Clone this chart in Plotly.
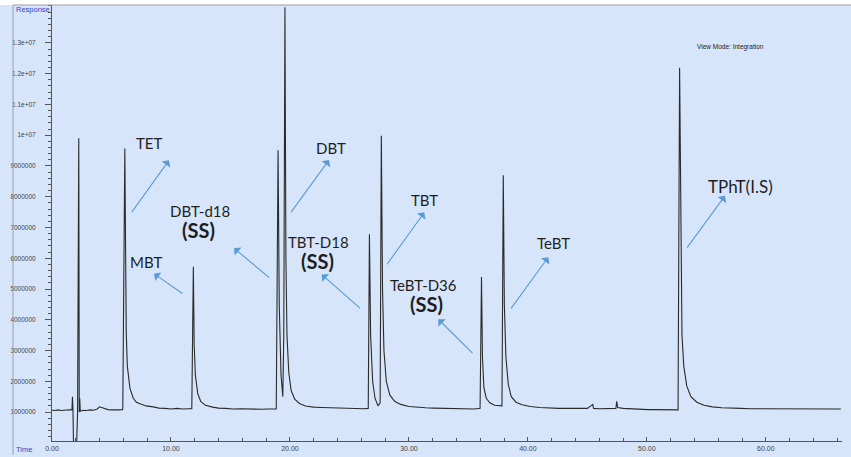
import plotly.graph_objects as go

# ---------------- data ----------------
time_min = [
    0.00, 0.25, 0.50, 0.75, 1.00, 1.25, 1.50, 1.68, 1.72, 1.76, 1.82, 2.05, 2.15, 2.25, 2.29, 2.33, 2.38,
    2.60, 2.90, 3.20, 3.50, 3.80, 4.00, 4.15, 4.40, 4.70, 5.00, 5.30, 5.60, 5.92,
    5.95, 6.12, 6.18, 6.24, 6.33, 6.55, 6.83, 7.10, 7.40, 7.90, 8.50, 9.00, 9.50, 10.00, 10.50, 11.00, 11.50, 11.75,
    11.88, 11.95, 12.05, 12.25, 12.50, 12.90, 13.50, 14.00, 14.60, 15.20, 15.80, 16.40, 17.00, 17.60, 18.20, 18.85,
    19.00, 19.10, 19.25, 19.40, 19.48, 19.58, 19.66, 19.75, 19.90, 20.10, 20.40, 20.80, 21.30, 22.00, 22.70, 23.40,
    24.10, 24.80, 25.50, 26.20, 26.58,
    26.68, 26.78, 26.95, 27.15, 27.40, 27.58, 27.68, 27.78, 27.90, 28.10, 28.40, 28.80, 29.30, 30.00, 30.70, 31.40,
    32.10, 32.80, 33.50, 34.20, 34.90, 35.50, 35.98,
    36.10, 36.18, 36.30, 36.50, 36.80, 37.20, 37.60, 37.82,
    37.93, 38.02, 38.15, 38.35, 38.60, 39.00, 39.50, 40.20, 41.00, 41.80, 42.60, 43.40, 44.20, 45.00, 45.45, 45.52,
    46.00, 46.70, 47.40, 47.46, 47.55, 48.00, 48.70, 49.40, 50.10, 50.80, 51.50, 52.20, 52.62,
    52.75, 52.85, 52.95, 53.10, 53.35, 53.70, 54.20, 54.80, 55.50, 56.30, 57.10, 57.90, 58.70, 59.50, 60.30, 61.10,
    61.90, 62.70, 63.50, 64.30, 65.10, 66.30,
]
response = [
    1.06e6, 1.05e6, 1.07e6, 1.05e6, 1.06e6, 1.07e6, 1.06e6, 1.08e6, 1.50e6, 1.10e6, -0.3e6, -0.3e6, 1.00e6, 9.90e6, 1.00e6, 1.45e6, 1.03e6,
    1.06e6, 1.05e6, 1.07e6, 1.06e6, 1.10e6, 1.17e6, 1.15e6, 1.10e6, 1.08e6, 1.07e6, 1.06e6, 1.07e6, 1.08e6,
    1.10e6, 9.57e6, 4.70e6, 3.60e6, 2.50e6, 1.78e6, 1.45e6, 1.32e6, 1.27e6, 1.20e6, 1.17e6, 1.13e6, 1.12e6, 1.10e6, 1.12e6, 1.10e6, 1.11e6, 1.11e6,
    5.72e6, 3.20e6, 2.20e6, 1.60e6, 1.35e6, 1.22e6, 1.16e6, 1.13e6, 1.12e6, 1.10e6, 1.11e6, 1.10e6, 1.11e6, 1.09e6, 1.10e6, 1.10e6,
    9.51e6, 4.50e6, 2.20e6, 1.50e6, 3.50e6, 14.16e6, 6.00e6, 3.50e6, 2.30e6, 1.70e6, 1.42e6, 1.28e6, 1.20e6, 1.16e6, 1.15e6, 1.14e6,
    1.13e6, 1.13e6, 1.12e6, 1.11e6, 1.12e6,
    6.78e6, 3.50e6, 2.00e6, 1.45e6, 1.20e6, 1.30e6, 9.98e6, 5.00e6, 3.00e6, 2.00e6, 1.55e6, 1.35e6, 1.25e6, 1.18e6, 1.15e6, 1.14e6,
    1.13e6, 1.12e6, 1.12e6, 1.11e6, 1.10e6, 1.10e6, 1.12e6,
    5.39e6, 2.80e6, 1.80e6, 1.45e6, 1.30e6, 1.22e6, 1.20e6, 1.20e6,
    8.70e6, 4.50e6, 2.80e6, 1.90e6, 1.50e6, 1.32e6, 1.24e6, 1.18e6, 1.15e6, 1.13e6, 1.12e6, 1.12e6, 1.11e6, 1.12e6, 1.25e6, 1.12e6,
    1.11e6, 1.12e6, 1.12e6, 1.35e6, 1.15e6, 1.12e6, 1.10e6, 1.09e6, 1.08e6, 1.08e6, 1.07e6, 1.06e6, 1.07e6,
    12.19e6, 6.00e6, 3.50e6, 2.50e6, 1.85e6, 1.50e6, 1.32e6, 1.22e6, 1.17e6, 1.14e6, 1.12e6, 1.12e6, 1.11e6, 1.11e6, 1.10e6, 1.10e6,
    1.10e6, 1.09e6, 1.10e6, 1.10e6, 1.09e6, 1.10e6,
]

y_tick_vals = [1e6, 2e6, 3e6, 4e6, 5e6, 6e6, 7e6, 8e6, 9e6, 1e7, 1.1e7, 1.2e7, 1.3e7]
y_tick_text = ["1000000", "2000000", "3000000", "4000000", "5000000", "6000000", "7000000",
               "8000000", "9000000", "1e+07", "1.1e+07", "1.2e+07", "1.3e+07"]
x_tick_vals = [0, 10, 20, 30, 40, 50, 60]
x_tick_text = ["0.00", "10.00", "20.00", "30.00", "40.00", "50.00", "60.00"]

peak_labels = ["TET", "MBT", "DBT-d18", "DBT", "TBT-D18", "TBT", "TeBT-D36", "TeBT", "TPhT(I.S)"]
ss_label = "(SS)"

# ---------------- layout geometry (pixels) ----------------
W, H = 851, 457
L, R, T, B = 52, 842, 5, 443
BG = "#D6E5FA"
BLUE_TXT = "#3344C4"
ARROW = "#5B9BD5"


def px(x):
    return (x - L) / (R - L)


def py(y):
    return (B - y) / (B - T)


fig = go.Figure()
fig.add_trace(go.Scatter(
    x=time_min, y=response, mode="lines",
    line=dict(color="#2b2b2b", width=1.1),
    hoverinfo="skip", showlegend=False,
))

# text label positions (pixel centres) and font sizes
label_pos = {
    "TET": (149.5, 144, 15),
    "MBT": (146.3, 263.5, 15),
    "DBT-d18": (199.5, 211.7, 15),
    "DBT": (330.8, 148.7, 15),
    "TBT-D18": (318, 243.5, 15),
    "TBT": (424, 200.5, 15),
    "TeBT-D36": (423.8, 285.8, 15),
    "TeBT": (553, 244, 15),
    "TPhT(I.S)": (740, 187, 17),
}
ss_pos = [(198.7, 231.5), (317.7, 262.5), (426.7, 305.5)]
arrows = {
    "TET": ((130.7, 214.3), (169, 161)),
    "MBT": ((184, 295.7), (154, 275)),
    "DBT-d18": ((270.7, 280), (234, 249.3)),
    "DBT": ((290, 214.3), (329, 160.7)),
    "TBT-D18": ((361.7, 311), (321.7, 275.7)),
    "TBT": ((386, 266.7), (424.3, 213.3)),
    "TeBT-D36": ((474, 356), (438.3, 320.7)),
    "TeBT": ((510, 311), (548.3, 258.3)),
    "TPhT(I.S)": ((686, 250), (725, 196.7)),
}

annotations = []
for lab in peak_labels:
    x, y, fs = label_pos[lab]
    annotations.append(dict(
        text=lab, x=px(x), y=py(y), xref="paper", yref="paper",
        xanchor="center", yanchor="middle", showarrow=False,
        font=dict(family="Lato, Open Sans, sans-serif", size=fs, color="#1e1e1e"),
    ))
    (tx, ty), (hx, hy) = arrows[lab]
    annotations.append(dict(
        text="", x=px(hx), y=py(hy), xref="paper", yref="paper",
        ax=tx - hx, ay=ty - hy, axref="pixel", ayref="pixel",
        showarrow=True, arrowhead=1, arrowsize=1.6, arrowwidth=1.1,
        arrowcolor=ARROW, standoff=0,
    ))
for (x, y) in ss_pos:
    annotations.append(dict(
        text="<b>" + ss_label + "</b>", x=px(x), y=py(y), xref="paper", yref="paper",
        xanchor="center", yanchor="middle", showarrow=False,
        font=dict(family="Lato, Open Sans, sans-serif", size=20, color="#1e1e1e"),
    ))

annotations += [
    dict(text="View Mode: Integration", x=px(730), y=py(47), xref="paper", yref="paper",
         xanchor="center", yanchor="middle", showarrow=False,
         font=dict(family="Arial, Liberation Sans, sans-serif", size=6.5, color="#222")),
    dict(text="Response", x=px(14), y=py(10), xref="paper", yref="paper",
         xanchor="left", yanchor="middle", showarrow=False,
         font=dict(family="Arial, Liberation Sans, sans-serif", size=7.5, color=BLUE_TXT)),
    dict(text="Time", x=px(14), y=py(452), xref="paper", yref="paper",
         xanchor="left", yanchor="middle", showarrow=False,
         font=dict(family="Arial, Liberation Sans, sans-serif", size=7.5, color=BLUE_TXT)),
]

shapes = [
    dict(type="rect", xref="paper", yref="paper", x0=px(0), x1=px(W), y0=py(5), y1=py(0),
         fillcolor="#FFFFFF", line=dict(width=0), layer="below"),
    dict(type="line", xref="paper", yref="paper", x0=px(13), x1=px(W), y0=py(5), y1=py(5),
         line=dict(color="#9A9FA8", width=1)),
    dict(type="line", xref="paper", yref="paper", x0=px(13), x1=px(13), y0=py(5), y1=py(H),
         line=dict(color="#9A9FA8", width=1)),
]

fig.update_layout(
    width=W, height=H,
    margin=dict(l=L, r=W - R, t=T, b=H - B, pad=0),
    paper_bgcolor=BG, plot_bgcolor=BG,
    showlegend=False,
    annotations=annotations, shapes=shapes,
    xaxis=dict(
        range=[0, 66.4], showgrid=False, zeroline=False,
        showline=True, linecolor="#555", linewidth=1,
        tickvals=x_tick_vals, ticktext=x_tick_text,
        ticks="inside", ticklen=4, tickcolor="#555",
        minor=dict(dtick=2, ticks="inside", ticklen=3, tickcolor="#555"),
        tickfont=dict(family="Arial, Liberation Sans, sans-serif", size=7, color="#444"),
        ticklabelstandoff=1,
    ),
    yaxis=dict(
        range=[0.06e6, 14.23e6], showgrid=False, zeroline=False,
        showline=True, linecolor="#555", linewidth=1,
        tickvals=y_tick_vals, ticktext=y_tick_text,
        ticks="outside", ticklen=6, tickcolor="#555",
        minor=dict(dtick=2e5, ticks="outside", ticklen=3, tickcolor="#555"),
        tickfont=dict(family="Arial, Liberation Sans, sans-serif", size=6.5, color="#444"),
        ticklabelstandoff=8,
    ),
)

fig.write_html(
    "out.html",
    config={"displayModeBar": False},
    post_script="document.body.style.margin='0px';document.body.style.padding='0px';"
                "document.body.style.background='" + BG + "';",
)
